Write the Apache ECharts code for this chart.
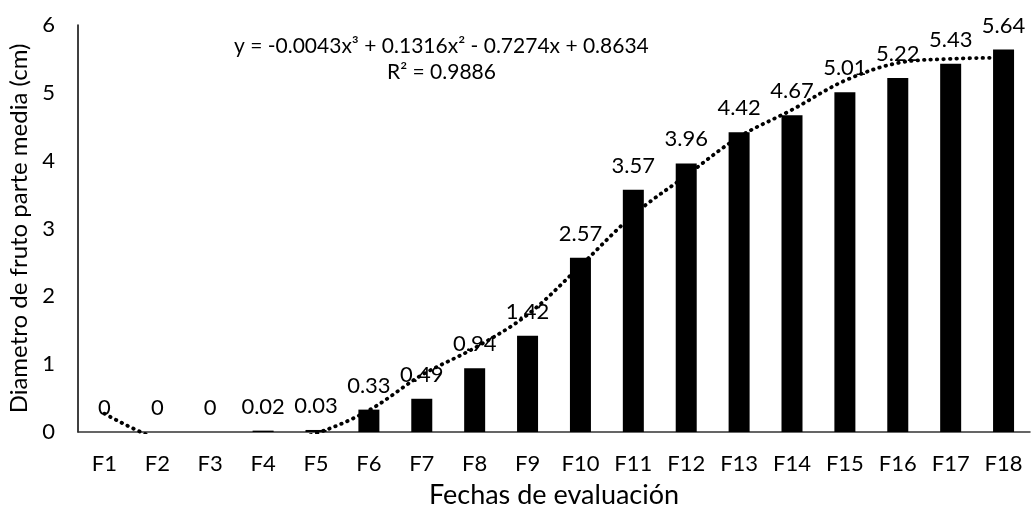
<!DOCTYPE html>
<html>
<head>
<meta charset="utf-8">
<script src="https://cdn.jsdelivr.net/npm/echarts@6/dist/echarts.min.js"></script>
<style>
  html, body { margin: 0; padding: 0; background: #fff; }
  #chart { width: 1034px; height: 512px; }
</style>
</head>
<body>
<div id="chart"></div>
<script>
// datos
const fechas = ['F1', 'F2', 'F3', 'F4', 'F5', 'F6', 'F7', 'F8', 'F9', 'F10',
  'F11', 'F12', 'F13', 'F14', 'F15', 'F16', 'F17', 'F18']
const diametro = [0, 0, 0, 0.02, 0.03, 0.33, 0.49, 0.94, 1.42, 2.57,
  3.57, 3.96, 4.42, 4.67, 5.01, 5.22, 5.43, 5.64]
const tendencia = [0.27, -0.1, -0.25, -0.2, -0.02, 0.32, 0.84, 1.24, 1.73, 2.45,
  3.2, 3.78, 4.35, 4.75, 5.18, 5.44, 5.5, 5.52]
const yTicks = [0, 1, 2, 3, 4, 5, 6]

const ecuacion = 'y = -0.0043x³ + 0.1316x² - 0.7274x + 0.8634'
const r2 = 'R² = 0.9886'

const font = 'Lato, "Open Sans", sans-serif'
const chart = echarts.init(document.getElementById('chart'))

chart.setOption({
  backgroundColor: '#fff',
  animation: false,
  textStyle: {fontFamily: font, color: '#000'},
  grid: {left: 78, right: 4, top: 25, bottom: 80, outerBoundsMode: 'none', containLabel: false},
  xAxis: {
    type: 'category',
    data: fechas,
    name: 'Fechas de evaluación',
    nameLocation: 'middle',
    nameGap: 50,
    nameTextStyle: {fontFamily: font, fontSize: 27, color: '#000'},
    axisLine: {lineStyle: {color: '#333', width: 1.5}},
    axisTick: {show: false},
    axisLabel: {fontFamily: font, fontSize: 22, color: '#000', margin: 21}
  },
  yAxis: {
    type: 'value',
    min: yTicks[0],
    max: yTicks[yTicks.length - 1],
    interval: 1,
    name: 'Diametro de fruto parte media (cm)',
    nameLocation: 'middle',
    nameGap: 46,
    nameTextStyle: {fontFamily: font, fontSize: 24, color: '#000'},
    axisLine: {show: true, lineStyle: {color: '#000', width: 1.5}},
    axisTick: {show: false},
    splitLine: {show: false},
    axisLabel: {fontFamily: font, fontSize: 22, color: '#000', margin: 23}
  },
  graphic: [
    {
      type: 'text', left: 234, top: 36,
      style: {text: ecuacion, font: '21px ' + font, fill: '#000'}
    },
    {
      type: 'text', left: 387, top: 62,
      style: {text: r2, font: '21px ' + font, fill: '#000'}
    }
  ],
  series: [
    {
      type: 'bar',
      data: diametro,
      barWidth: 21,
      itemStyle: {color: '#000'},
      label: {
        show: true, position: 'top', distance: 13,
        fontFamily: font, fontSize: 22, color: '#000'
      }
    },
    {
      type: 'line',
      data: tendencia,
      smooth: 0.35,
      symbol: 'none',
      clip: true,
      z: 5,
      lineStyle: {color: '#000', width: 3.8, type: [0.5, 6], cap: 'round'}
    }
  ]
})
</script>
</body>
</html>
